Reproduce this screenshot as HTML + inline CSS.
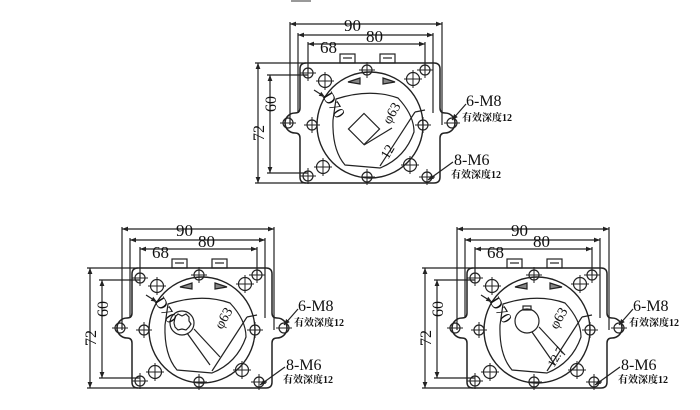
<!DOCTYPE html>
<html><head><meta charset="utf-8"><style>
html,body{margin:0;padding:0;background:#fff;}
svg{display:block;}
text{font-family:"Liberation Serif",serif;fill:#111;}
.cn{font-family:"Liberation Serif","Noto Serif CJK SC",serif;font-size:10px;font-weight:bold;}
</style></head><body>
<svg width="700" height="410" viewBox="0 0 700 410" xmlns="http://www.w3.org/2000/svg">
<defs>
<g id="h">
<circle r="5" fill="none" stroke="#222" stroke-width="1.2"/>
<line x1="-8" y1="0" x2="8" y2="0" stroke="#222" stroke-width="1"/>
<line x1="0" y1="-8" x2="0" y2="8" stroke="#222" stroke-width="1"/>
</g>
<g id="hb">
<circle r="6.5" fill="none" stroke="#222" stroke-width="1.2"/>
<line x1="-9" y1="0" x2="9" y2="0" stroke="#222" stroke-width="1"/>
<line x1="0" y1="-9" x2="0" y2="9" stroke="#222" stroke-width="1"/>
</g>
<marker id="a" viewBox="0 0 10 10" refX="10" refY="5" markerWidth="5" markerHeight="5" orient="auto-start-reverse"><path d="M0,1 L10,5 L0,9z" fill="#222"/></marker>
<g id="base" fill="none" stroke="#222" stroke-width="1.2">
<path d="M306,63 L434,63 Q440,63 440,69 L440,108 Q440,113 445,113 A10,10 0 0 1 445,133 Q440,133 440,138 L440,177 Q440,183 434,183 L306,183 Q300,183 300,177 L300,138 Q300,133 295,133 A10,10 0 0 1 295,113 Q300,113 300,108 L300,69 Q300,63 306,63Z" stroke-width="1.5"/>
<circle cx="288" cy="123" r="5"/><circle cx="452" cy="123" r="5"/>
<line x1="280" y1="123" x2="296" y2="123" stroke-width="1"/><line x1="444" y1="123" x2="460" y2="123" stroke-width="1"/>
<rect x="340" y="54" width="15" height="9"/><rect x="380" y="54" width="15" height="9"/>
<line x1="343" y1="58" x2="352" y2="58"/><line x1="383" y1="58" x2="392" y2="58"/>
<circle cx="370" cy="125" r="53" stroke-width="1.4"/>
<path d="M336,99 Q370,88 398,98 Q414,115 414,132 Q405,158 380,168 L345,165 Q332,150 333,120 Z"/>
<path d="M348,82 L360,78 L360,84Z M383,78 L395,82 L383,84Z" fill="#888"/>
<line x1="290" y1="24" x2="442" y2="24" marker-start="url(#a)" marker-end="url(#a)"/>
<line x1="298" y1="35" x2="433" y2="35" marker-start="url(#a)" marker-end="url(#a)"/>
<line x1="308" y1="44" x2="425" y2="44" marker-start="url(#a)" marker-end="url(#a)"/>
<line x1="290" y1="22" x2="290" y2="125"/><line x1="442" y1="22" x2="442" y2="125"/>
<line x1="298" y1="33" x2="298" y2="113"/><line x1="433" y1="33" x2="433" y2="113"/>
<line x1="308" y1="42" x2="308" y2="73"/><line x1="425" y1="42" x2="425" y2="70"/>
<line x1="258" y1="63" x2="258" y2="183" marker-start="url(#a)" marker-end="url(#a)"/>
<line x1="270" y1="75" x2="270" y2="173" marker-start="url(#a)" marker-end="url(#a)"/>
<line x1="255" y1="63" x2="306" y2="63"/><line x1="255" y1="183" x2="306" y2="183"/>
<line x1="267" y1="75" x2="308" y2="75"/><line x1="267" y1="173" x2="308" y2="173"/>
<line x1="314" y1="90" x2="325" y2="97" marker-end="url(#a)"/>
<line x1="380" y1="166" x2="415" y2="112"/><line x1="415" y1="112" x2="425" y2="110"/>
<line x1="452" y1="120" x2="466" y2="104" marker-start="url(#a)"/>
<line x1="428" y1="180" x2="453" y2="162" marker-start="url(#a)"/>
<use href="#h" x="308" y="73"/><use href="#h" x="425" y="70"/>
<use href="#h" x="308" y="176"/><use href="#h" x="427" y="177"/>
<use href="#h" x="367" y="70"/><use href="#h" x="367" y="177"/>
<use href="#h" x="312" y="125"/><use href="#h" x="423" y="125"/>
<use href="#hb" x="325" y="81"/><use href="#hb" x="413" y="79"/>
<use href="#hb" x="323" y="167"/><use href="#hb" x="410" y="165"/>
</g>
</defs>

<use href="#base"/>
<g fill="none" stroke="#222" stroke-width="1.2">
<rect x="353" y="118" width="22" height="22" transform="rotate(45 364 129)"/>
<line x1="364" y1="145" x2="392" y2="128"/>
</g>
<rect x="291" y="0" width="20" height="2" fill="#999"/>
<text x="344" y="31" font-size="17">90</text>
<text x="366" y="42" font-size="17">80</text>
<text x="320" y="53" font-size="17">68</text>
<text transform="translate(276,112) rotate(-90)" font-size="16">60</text>
<text transform="translate(264,141) rotate(-90)" font-size="16">72</text>
<text transform="translate(322,96) rotate(58)" font-size="16">D70</text>
<text transform="translate(390,125) rotate(-60)" font-size="14">φ63</text>
<text transform="translate(388,160) rotate(-60)" font-size="14">12</text>
<text x="466" y="106" font-size="16">6-M8</text>
<text x="462" y="121" class="cn">有效深度12</text>
<text x="454" y="165" font-size="16">8-M6</text>
<text x="451" y="178" class="cn">有效深度12</text>

<g transform="translate(-168,205)">
<use href="#base"/>
<g fill="none" stroke="#222" stroke-width="1.2">
<circle cx="350" cy="118" r="12"/>
<path d="M343,112 l3,-3 l4,2 l4,-2 l3,3 l0,4 l2,3 l-2,3 l-3,3 l-4,-1 l-4,1 l-3,-3 l-1,-4z"/>
<line x1="355" y1="128" x2="378" y2="160"/><line x1="362" y1="124" x2="388" y2="152"/>
</g>
<text x="344" y="31" font-size="17">90</text>
<text x="366" y="42" font-size="17">80</text>
<text x="320" y="53" font-size="17">68</text>
<text transform="translate(276,112) rotate(-90)" font-size="16">60</text>
<text transform="translate(264,141) rotate(-90)" font-size="16">72</text>
<text transform="translate(322,96) rotate(58)" font-size="16">D70</text>
<text transform="translate(390,125) rotate(-60)" font-size="14">φ63</text>
<text x="466" y="106" font-size="16">6-M8</text>
<text x="462" y="121" class="cn">有效深度12</text>
<text x="454" y="165" font-size="16">8-M6</text>
<text x="451" y="178" class="cn">有效深度12</text>
</g>

<g transform="translate(167,205)">
<use href="#base"/>
<g fill="none" stroke="#222" stroke-width="1.2">
<circle cx="360" cy="116" r="12"/>
<rect x="356" y="101" width="8" height="4"/>
<line x1="365" y1="127" x2="388" y2="160"/><line x1="372" y1="122" x2="398" y2="150"/>
</g>
<text x="344" y="31" font-size="17">90</text>
<text x="366" y="42" font-size="17">80</text>
<text x="320" y="53" font-size="17">68</text>
<text transform="translate(276,112) rotate(-90)" font-size="16">60</text>
<text transform="translate(264,141) rotate(-90)" font-size="16">72</text>
<text transform="translate(322,96) rotate(58)" font-size="16">D70</text>
<text transform="translate(390,125) rotate(-60)" font-size="14">φ63</text>
<text transform="translate(387,163) rotate(-60)" font-size="12">12.7</text>
<text x="466" y="106" font-size="16">6-M8</text>
<text x="462" y="121" class="cn">有效深度12</text>
<text x="454" y="165" font-size="16">8-M6</text>
<text x="451" y="178" class="cn">有效深度12</text>
</g>
</svg>
</body></html>
